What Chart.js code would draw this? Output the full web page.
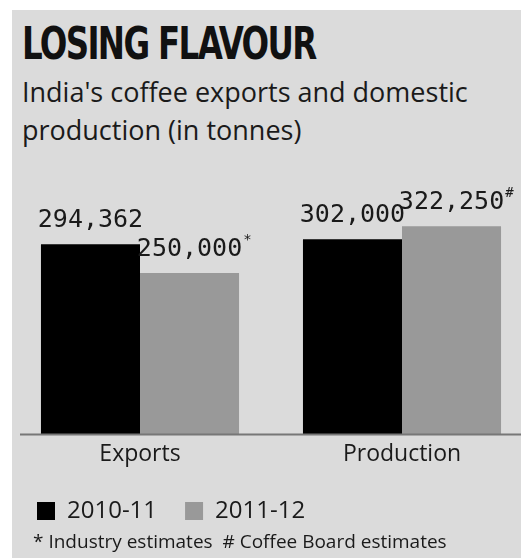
<!DOCTYPE html>
<html>
<head>
<meta charset="utf-8">
<script src="https://cdn.jsdelivr.net/npm/chart.js@4.4.0/dist/chart.umd.min.js"></script>
<style>
  html, body { margin: 0; padding: 0; background: #fff; overflow: hidden; width: 521px; height: 558px; }
  #panel { position: absolute; left: 12px; top: 10px; right: 0; bottom: 0; background: #dbdbdb; }
  #title { position: absolute; left: 22px; top: 18px; font-family: "Liberation Sans Narrow", "DejaVu Sans Condensed", sans-serif; font-weight: bold; font-size: 44px; letter-spacing: -2px; color: #111; transform: scaleX(0.82); transform-origin: left top; white-space: nowrap; }
  #subtitle { position: absolute; left: 22px; top: 73px; font-family: "Open Sans", sans-serif; font-size: 27px; line-height: 38px; color: #1a1a1a; white-space: nowrap; }
  #note { position: absolute; left: 33px; top: 528px; font-family: "Open Sans", sans-serif; font-size: 19px; color: #1a1a1a; white-space: nowrap; }
  #grafico { position: absolute; left: 0; top: 0; }
</style>
</head>
<body>
<div id="panel"></div>
<div id="title">LOSING FLAVOUR</div>
<div id="subtitle">India's coffee exports and domestic<br>production (in tonnes)</div>
<canvas id="grafico" width="545" height="533"></canvas>
<div id="note">* Industry estimates&nbsp;&nbsp;# Coffee Board estimates</div>
<script>
var categorias = ['Exports', 'Production'];
var series = ['2010-11', '2011-12'];
var valores2010 = [294362, 302000];
var valores2011 = [250000, 322250];
var marcas2010 = ['', ''];
var marcas2011 = ['*', '#'];

// etiquetas de valor encima de cada barra y linea base
var etiquetas = {
    id: 'etiquetas',
    afterDatasetsDraw: function (chart) {
        var ctx = chart.ctx;
        var marcas = [marcas2010, marcas2011];
        ctx.save();
        chart.data.datasets.forEach(function (ds, i) {
            chart.getDatasetMeta(i).data.forEach(function (bar, j) {
                var texto = ds.data[j].toLocaleString('en-US');
                ctx.font = '25px "DejaVu Sans Mono"';
                ctx.fillStyle = '#1a1a1a';
                ctx.textAlign = 'center';
                ctx.textBaseline = 'alphabetic';
                var w = ctx.measureText(texto).width;
                ctx.fillText(texto, bar.x, bar.y - 17);
                if (marcas[i][j]) {
                    ctx.font = '14px "DejaVu Sans Mono"';
                    ctx.textAlign = 'left';
                    ctx.fillText(marcas[i][j], bar.x + w / 2 + 1, bar.y - 29);
                }
            });
        });
        var y = chart.chartArea.bottom;
        ctx.strokeStyle = '#777';
        ctx.lineWidth = 2;
        ctx.beginPath();
        ctx.moveTo(20, y);
        ctx.lineTo(chart.width, y);
        ctx.stroke();
        ctx.restore();
    }
};

var ctx = document.getElementById('grafico').getContext('2d');
var grafico = new Chart(ctx, {
    type: 'bar',
    data: {
        labels: categorias,
        datasets: [{
            label: series[0],
            data: valores2010,
            backgroundColor: '#000000'
        }, {
            label: series[1],
            data: valores2011,
            backgroundColor: '#999999'
        }]
    },
    options: {
        responsive: false,
        animation: false,
        layout: { padding: { left: 9, right: 12, top: 176, bottom: 0 } },
        datasets: { bar: { categoryPercentage: 0.756, barPercentage: 1 } },
        plugins: {
            tooltip: { enabled: false },
            legend: {
                position: 'bottom',
                align: 'start',
                labels: {
                    boxWidth: 18,
                    boxHeight: 18,
                    padding: 28,
                    color: '#1a1a1a',
                    font: { family: 'Open Sans', size: 24 }
                }
            }
        },
        scales: {
            x: {
                grid: { display: false, drawTicks: false },
                border: { display: false },
                ticks: { color: '#1a1a1a', padding: 6, font: { family: 'Open Sans', size: 23 } },
                afterFit: function (scale) { scale.height -= 3; }
            },
            y: {
                display: false,
                min: 0,
                max: 400000
            }
        }
    },
    plugins: [etiquetas]
});
</script>
</body>
</html>
